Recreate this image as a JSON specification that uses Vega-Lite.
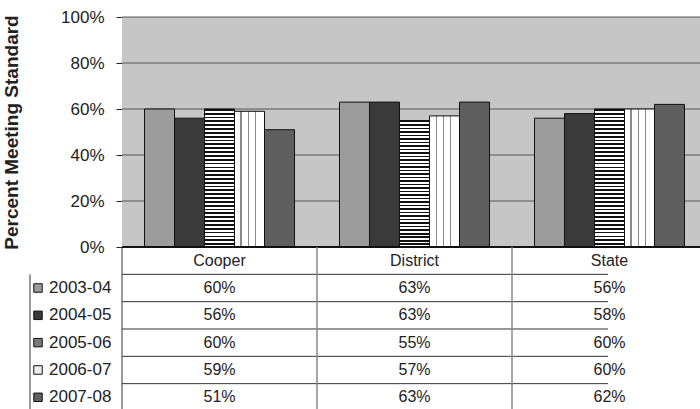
{
  "$schema": "https://vega.github.io/schema/vega-lite/v6.json",
  "width": 578,
  "height": 392,
  "autosize": "none",
  "padding": {"left": 122, "top": 17, "right": 0, "bottom": 0},
  "background": "white",
  "config": {"view": {"stroke": null}, "font": "Liberation Sans"},
  "datasets": {
    "scores": [
      {"cat": "Cooper", "year": "2003-04", "value": 0.60},
      {"cat": "Cooper", "year": "2004-05", "value": 0.56},
      {"cat": "Cooper", "year": "2005-06", "value": 0.60},
      {"cat": "Cooper", "year": "2006-07", "value": 0.59},
      {"cat": "Cooper", "year": "2007-08", "value": 0.51},
      {"cat": "District", "year": "2003-04", "value": 0.63},
      {"cat": "District", "year": "2004-05", "value": 0.63},
      {"cat": "District", "year": "2005-06", "value": 0.55},
      {"cat": "District", "year": "2006-07", "value": 0.57},
      {"cat": "District", "year": "2007-08", "value": 0.63},
      {"cat": "State", "year": "2003-04", "value": 0.56},
      {"cat": "State", "year": "2004-05", "value": 0.58},
      {"cat": "State", "year": "2005-06", "value": 0.60},
      {"cat": "State", "year": "2006-07", "value": 0.60},
      {"cat": "State", "year": "2007-08", "value": 0.62}
    ],
    "cats": [{"cat": "Cooper"}, {"cat": "District"}, {"cat": "State"}],
    "inner": [{"cat": "District"}, {"cat": "State"}],
    "years": [{"year": "2003-04"}, {"year": "2004-05"}, {"year": "2005-06"}, {"year": "2006-07"}, {"year": "2007-08"}],
    "grid": [{"g": 0.2}, {"g": 0.4}, {"g": 0.6}, {"g": 0.8}, {"g": 1}]
  },
  "layer": [
    {
      "layer": [
        {
          "data": {"name": "cats"},
          "mark": {"type": "rect", "fill": "#c6c6c6"},
          "encoding": {
            "x": {"field": "cat", "type": "nominal", "scale": {"domain": ["Cooper", "District", "State"], "range": [0, 585], "paddingInner": 0, "paddingOuter": 0}, "axis": null},
            "y": {"datum": 0, "type": "quantitative", "scale": {"domain": [0, 1], "range": [230, 0]},
              "axis": {"values": [0, 0.2, 0.4, 0.6, 0.8, 1], "format": ".0%", "title": "Percent Meeting Standard", "titleFontSize": 19, "titleFontWeight": "bold", "titleColor": "#222222", "titlePadding": 39, "labelFontSize": 17, "labelColor": "#222222", "labelPadding": 12, "tickSize": 6, "tickColor": "#222222", "domainColor": "#222222", "grid": false}},
            "y2": {"datum": 1}
          }
        },
        {
          "data": {"name": "grid"},
          "mark": {"type": "rule", "stroke": "#555555", "strokeWidth": 1},
          "encoding": {
            "y": {"field": "g", "type": "quantitative", "scale": {"domain": [0, 1], "range": [230, 0]},
              "axis": {"values": [0, 0.2, 0.4, 0.6, 0.8, 1], "format": ".0%", "title": "Percent Meeting Standard", "titleFontSize": 19, "titleFontWeight": "bold", "titleColor": "#222222", "titlePadding": 39, "labelFontSize": 17, "labelColor": "#222222", "labelPadding": 12, "tickSize": 6, "tickColor": "#222222", "domainColor": "#222222", "grid": false}}
          }
        },
        {
          "data": {"name": "scores"},
          "mark": {"type": "bar", "stroke": "#111111", "strokeWidth": 1},
          "encoding": {
            "x": {"field": "cat", "type": "nominal", "scale": {"domain": ["Cooper", "District", "State"], "range": [0, 585], "paddingInner": 0, "paddingOuter": 0}, "axis": null},
            "xOffset": {"field": "year", "type": "nominal", "scale": {"paddingInner": 0, "paddingOuter": 0.75}},
            "y": {"field": "value", "type": "quantitative", "scale": {"domain": [0, 1], "range": [230, 0]},
              "axis": {"values": [0, 0.2, 0.4, 0.6, 0.8, 1], "format": ".0%", "title": "Percent Meeting Standard", "titleFontSize": 19, "titleFontWeight": "bold", "titleColor": "#222222", "titlePadding": 39, "labelFontSize": 17, "labelColor": "#222222", "labelPadding": 12, "tickSize": 6, "tickColor": "#222222", "domainColor": "#222222", "grid": false}},
            "fill": {
              "condition": [
                {"test": "datum.year === '2005-06'", "value": {"gradient": "linear", "x1": 0, "y1": 0, "x2": 0, "y2": 1, "stops": [
                  {"offset": 0.0000, "color": "#111111"}, {"offset": 0.0125, "color": "#111111"}, {"offset": 0.0125, "color": "#ffffff"}, {"offset": 0.0278, "color": "#ffffff"},
                  {"offset": 0.0278, "color": "#111111"}, {"offset": 0.0403, "color": "#111111"}, {"offset": 0.0403, "color": "#ffffff"}, {"offset": 0.0556, "color": "#ffffff"},
                  {"offset": 0.0556, "color": "#111111"}, {"offset": 0.0681, "color": "#111111"}, {"offset": 0.0681, "color": "#ffffff"}, {"offset": 0.0833, "color": "#ffffff"},
                  {"offset": 0.0833, "color": "#111111"}, {"offset": 0.0958, "color": "#111111"}, {"offset": 0.0958, "color": "#ffffff"}, {"offset": 0.1111, "color": "#ffffff"},
                  {"offset": 0.1111, "color": "#111111"}, {"offset": 0.1236, "color": "#111111"}, {"offset": 0.1236, "color": "#ffffff"}, {"offset": 0.1389, "color": "#ffffff"},
                  {"offset": 0.1389, "color": "#111111"}, {"offset": 0.1514, "color": "#111111"}, {"offset": 0.1514, "color": "#ffffff"}, {"offset": 0.1667, "color": "#ffffff"},
                  {"offset": 0.1667, "color": "#111111"}, {"offset": 0.1792, "color": "#111111"}, {"offset": 0.1792, "color": "#ffffff"}, {"offset": 0.1944, "color": "#ffffff"},
                  {"offset": 0.1944, "color": "#111111"}, {"offset": 0.2069, "color": "#111111"}, {"offset": 0.2069, "color": "#ffffff"}, {"offset": 0.2222, "color": "#ffffff"},
                  {"offset": 0.2222, "color": "#111111"}, {"offset": 0.2347, "color": "#111111"}, {"offset": 0.2347, "color": "#ffffff"}, {"offset": 0.2500, "color": "#ffffff"},
                  {"offset": 0.2500, "color": "#111111"}, {"offset": 0.2625, "color": "#111111"}, {"offset": 0.2625, "color": "#ffffff"}, {"offset": 0.2778, "color": "#ffffff"},
                  {"offset": 0.2778, "color": "#111111"}, {"offset": 0.2903, "color": "#111111"}, {"offset": 0.2903, "color": "#ffffff"}, {"offset": 0.3056, "color": "#ffffff"},
                  {"offset": 0.3056, "color": "#111111"}, {"offset": 0.3181, "color": "#111111"}, {"offset": 0.3181, "color": "#ffffff"}, {"offset": 0.3333, "color": "#ffffff"},
                  {"offset": 0.3333, "color": "#111111"}, {"offset": 0.3458, "color": "#111111"}, {"offset": 0.3458, "color": "#ffffff"}, {"offset": 0.3611, "color": "#ffffff"},
                  {"offset": 0.3611, "color": "#111111"}, {"offset": 0.3736, "color": "#111111"}, {"offset": 0.3736, "color": "#ffffff"}, {"offset": 0.3889, "color": "#ffffff"},
                  {"offset": 0.3889, "color": "#111111"}, {"offset": 0.4014, "color": "#111111"}, {"offset": 0.4014, "color": "#ffffff"}, {"offset": 0.4167, "color": "#ffffff"},
                  {"offset": 0.4167, "color": "#111111"}, {"offset": 0.4292, "color": "#111111"}, {"offset": 0.4292, "color": "#ffffff"}, {"offset": 0.4444, "color": "#ffffff"},
                  {"offset": 0.4444, "color": "#111111"}, {"offset": 0.4569, "color": "#111111"}, {"offset": 0.4569, "color": "#ffffff"}, {"offset": 0.4722, "color": "#ffffff"},
                  {"offset": 0.4722, "color": "#111111"}, {"offset": 0.4847, "color": "#111111"}, {"offset": 0.4847, "color": "#ffffff"}, {"offset": 0.5000, "color": "#ffffff"},
                  {"offset": 0.5000, "color": "#111111"}, {"offset": 0.5125, "color": "#111111"}, {"offset": 0.5125, "color": "#ffffff"}, {"offset": 0.5278, "color": "#ffffff"},
                  {"offset": 0.5278, "color": "#111111"}, {"offset": 0.5403, "color": "#111111"}, {"offset": 0.5403, "color": "#ffffff"}, {"offset": 0.5556, "color": "#ffffff"},
                  {"offset": 0.5556, "color": "#111111"}, {"offset": 0.5681, "color": "#111111"}, {"offset": 0.5681, "color": "#ffffff"}, {"offset": 0.5833, "color": "#ffffff"},
                  {"offset": 0.5833, "color": "#111111"}, {"offset": 0.5958, "color": "#111111"}, {"offset": 0.5958, "color": "#ffffff"}, {"offset": 0.6111, "color": "#ffffff"},
                  {"offset": 0.6111, "color": "#111111"}, {"offset": 0.6236, "color": "#111111"}, {"offset": 0.6236, "color": "#ffffff"}, {"offset": 0.6389, "color": "#ffffff"},
                  {"offset": 0.6389, "color": "#111111"}, {"offset": 0.6514, "color": "#111111"}, {"offset": 0.6514, "color": "#ffffff"}, {"offset": 0.6667, "color": "#ffffff"},
                  {"offset": 0.6667, "color": "#111111"}, {"offset": 0.6792, "color": "#111111"}, {"offset": 0.6792, "color": "#ffffff"}, {"offset": 0.6944, "color": "#ffffff"},
                  {"offset": 0.6944, "color": "#111111"}, {"offset": 0.7069, "color": "#111111"}, {"offset": 0.7069, "color": "#ffffff"}, {"offset": 0.7222, "color": "#ffffff"},
                  {"offset": 0.7222, "color": "#111111"}, {"offset": 0.7347, "color": "#111111"}, {"offset": 0.7347, "color": "#ffffff"}, {"offset": 0.7500, "color": "#ffffff"},
                  {"offset": 0.7500, "color": "#111111"}, {"offset": 0.7625, "color": "#111111"}, {"offset": 0.7625, "color": "#ffffff"}, {"offset": 0.7778, "color": "#ffffff"},
                  {"offset": 0.7778, "color": "#111111"}, {"offset": 0.7903, "color": "#111111"}, {"offset": 0.7903, "color": "#ffffff"}, {"offset": 0.8056, "color": "#ffffff"},
                  {"offset": 0.8056, "color": "#111111"}, {"offset": 0.8181, "color": "#111111"}, {"offset": 0.8181, "color": "#ffffff"}, {"offset": 0.8333, "color": "#ffffff"},
                  {"offset": 0.8333, "color": "#111111"}, {"offset": 0.8458, "color": "#111111"}, {"offset": 0.8458, "color": "#ffffff"}, {"offset": 0.8611, "color": "#ffffff"},
                  {"offset": 0.8611, "color": "#111111"}, {"offset": 0.8736, "color": "#111111"}, {"offset": 0.8736, "color": "#ffffff"}, {"offset": 0.8889, "color": "#ffffff"},
                  {"offset": 0.8889, "color": "#111111"}, {"offset": 0.9014, "color": "#111111"}, {"offset": 0.9014, "color": "#ffffff"}, {"offset": 0.9167, "color": "#ffffff"},
                  {"offset": 0.9167, "color": "#111111"}, {"offset": 0.9292, "color": "#111111"}, {"offset": 0.9292, "color": "#ffffff"}, {"offset": 0.9444, "color": "#ffffff"},
                  {"offset": 0.9444, "color": "#111111"}, {"offset": 0.9569, "color": "#111111"}, {"offset": 0.9569, "color": "#ffffff"}, {"offset": 0.9722, "color": "#ffffff"},
                  {"offset": 0.9722, "color": "#111111"}, {"offset": 0.9847, "color": "#111111"}, {"offset": 0.9847, "color": "#ffffff"}, {"offset": 1.0000, "color": "#ffffff"}
                ]}},
                {"test": "datum.year === '2006-07'", "value": {"gradient": "linear", "x1": 0, "y1": 0, "x2": 1, "y2": 0, "stops": [
                  {"offset": 0.00, "color": "#ffffff"}, {"offset": 0.20, "color": "#ffffff"}, {"offset": 0.20, "color": "#8a8a8a"}, {"offset": 0.24, "color": "#8a8a8a"},
                  {"offset": 0.24, "color": "#ffffff"}, {"offset": 0.44, "color": "#ffffff"}, {"offset": 0.44, "color": "#8a8a8a"}, {"offset": 0.48, "color": "#8a8a8a"},
                  {"offset": 0.48, "color": "#ffffff"}, {"offset": 0.68, "color": "#ffffff"}, {"offset": 0.68, "color": "#8a8a8a"}, {"offset": 0.72, "color": "#8a8a8a"},
                  {"offset": 0.72, "color": "#ffffff"}, {"offset": 1.00, "color": "#ffffff"}
                ]}}
              ],
              "field": "year", "type": "nominal", "scale": {"domain": ["2003-04", "2004-05", "2005-06", "2006-07", "2007-08"], "range": ["#9c9c9c", "#3a3a3a", "#7a7a7a", "#eeeeee", "#5f5f5f"]}, "legend": null
            }
          }
        },
        {
          "data": {"name": "cats"},
          "mark": {"type": "rule", "stroke": "#111111", "strokeWidth": 1.5},
          "encoding": {
            "y": {"datum": 0, "type": "quantitative", "scale": {"domain": [0, 1], "range": [230, 0]},
              "axis": {"values": [0, 0.2, 0.4, 0.6, 0.8, 1], "format": ".0%", "title": "Percent Meeting Standard", "titleFontSize": 19, "titleFontWeight": "bold", "titleColor": "#222222", "titlePadding": 39, "labelFontSize": 17, "labelColor": "#222222", "labelPadding": 12, "tickSize": 6, "tickColor": "#222222", "domainColor": "#222222", "grid": false}}
          }
        }
      ]
    },
    {
      "layer": [
        {
          "data": {"name": "cats"},
          "mark": {"type": "text", "fontSize": 16, "color": "#222222"},
          "encoding": {
            "x": {"field": "cat", "type": "nominal", "scale": {"domain": ["Cooper", "District", "State"], "range": [0, 585], "paddingInner": 0, "paddingOuter": 0}, "axis": null},
            "y": {"datum": "head", "type": "nominal", "scale": {"type": "band", "domain": ["head", "2003-04", "2004-05", "2005-06", "2006-07", "2007-08", "end"], "range": [230, 421.3], "paddingInner": 0, "paddingOuter": 0}, "axis": null},
            "text": {"field": "cat", "type": "nominal"}
          }
        },
        {
          "data": {"name": "scores"},
          "mark": {"type": "text", "fontSize": 16, "color": "#222222"},
          "encoding": {
            "x": {"field": "cat", "type": "nominal", "scale": {"domain": ["Cooper", "District", "State"], "range": [0, 585], "paddingInner": 0, "paddingOuter": 0}, "axis": null},
            "y": {"field": "year", "type": "nominal", "scale": {"type": "band", "domain": ["head", "2003-04", "2004-05", "2005-06", "2006-07", "2007-08", "end"], "range": [230, 421.3], "paddingInner": 0, "paddingOuter": 0}, "axis": null},
            "text": {"field": "value", "type": "quantitative", "format": ".0%"}
          }
        },
        {
          "data": {"name": "years"},
          "mark": {"type": "text", "fontSize": 17, "color": "#222222", "align": "left", "dx": -73},
          "encoding": {
            "x": {"datum": "Cooper", "type": "nominal", "bandPosition": 0, "scale": {"domain": ["Cooper", "District", "State"], "range": [0, 585], "paddingInner": 0, "paddingOuter": 0}, "axis": null},
            "y": {"field": "year", "type": "nominal", "scale": {"type": "band", "domain": ["head", "2003-04", "2004-05", "2005-06", "2006-07", "2007-08", "end"], "range": [230, 421.3], "paddingInner": 0, "paddingOuter": 0}, "axis": null},
            "text": {"field": "year", "type": "nominal"}
          }
        },
        {
          "data": {"name": "years"},
          "mark": {"type": "point", "shape": "square", "size": 72, "filled": true, "stroke": "#111111", "strokeWidth": 1, "opacity": 1, "xOffset": -84},
          "encoding": {
            "x": {"datum": "Cooper", "type": "nominal", "bandPosition": 0, "scale": {"domain": ["Cooper", "District", "State"], "range": [0, 585], "paddingInner": 0, "paddingOuter": 0}, "axis": null},
            "y": {"field": "year", "type": "nominal", "scale": {"type": "band", "domain": ["head", "2003-04", "2004-05", "2005-06", "2006-07", "2007-08", "end"], "range": [230, 421.3], "paddingInner": 0, "paddingOuter": 0}, "axis": null},
            "fill": {"field": "year", "type": "nominal", "scale": {"domain": ["2003-04", "2004-05", "2005-06", "2006-07", "2007-08"], "range": ["#9c9c9c", "#3a3a3a", "#7a7a7a", "#eeeeee", "#5f5f5f"]}, "legend": null}
          }
        },
        {
          "data": {"name": "years"},
          "mark": {"type": "rule", "stroke": "#333333", "strokeWidth": 1, "xOffset": -92},
          "encoding": {
            "y": {"field": "year", "type": "nominal", "bandPosition": 0, "scale": {"type": "band", "domain": ["head", "2003-04", "2004-05", "2005-06", "2006-07", "2007-08", "end"], "range": [230, 421.3], "paddingInner": 0, "paddingOuter": 0}, "axis": null}
          }
        },
        {
          "data": {"name": "inner"},
          "mark": {"type": "rule", "stroke": "#888888", "strokeWidth": 1.5},
          "encoding": {
            "x": {"field": "cat", "type": "nominal", "bandPosition": 0, "scale": {"domain": ["Cooper", "District", "State"], "range": [0, 585], "paddingInner": 0, "paddingOuter": 0}, "axis": null},
            "y": {"datum": "head", "type": "nominal", "bandPosition": 0, "scale": {"type": "band", "domain": ["head", "2003-04", "2004-05", "2005-06", "2006-07", "2007-08", "end"], "range": [230, 421.3], "paddingInner": 0, "paddingOuter": 0}, "axis": null},
            "y2": {"datum": "end"}
          }
        },
        {
          "data": {"values": [{"k": 1}]},
          "mark": {"type": "rule", "stroke": "#333333", "strokeWidth": 1},
          "encoding": {
            "x": {"datum": "Cooper", "type": "nominal", "bandPosition": 0, "scale": {"domain": ["Cooper", "District", "State"], "range": [0, 585], "paddingInner": 0, "paddingOuter": 0}, "axis": null},
            "y": {"datum": "head", "type": "nominal", "bandPosition": 0, "scale": {"type": "band", "domain": ["head", "2003-04", "2004-05", "2005-06", "2006-07", "2007-08", "end"], "range": [230, 421.3], "paddingInner": 0, "paddingOuter": 0}, "axis": null},
            "y2": {"datum": "end"}
          }
        },
        {
          "data": {"values": [{"k": 1}]},
          "mark": {"type": "rule", "stroke": "#333333", "strokeWidth": 1, "xOffset": -92},
          "encoding": {
            "x": {"datum": "Cooper", "type": "nominal", "bandPosition": 0, "scale": {"domain": ["Cooper", "District", "State"], "range": [0, 585], "paddingInner": 0, "paddingOuter": 0}, "axis": null},
            "y": {"datum": "2003-04", "type": "nominal", "bandPosition": 0, "scale": {"type": "band", "domain": ["head", "2003-04", "2004-05", "2005-06", "2006-07", "2007-08", "end"], "range": [230, 421.3], "paddingInner": 0, "paddingOuter": 0}, "axis": null},
            "y2": {"datum": "end"}
          }
        }
      ]
    }
  ],
  "resolve": {"scale": {"y": "independent"}}
}
